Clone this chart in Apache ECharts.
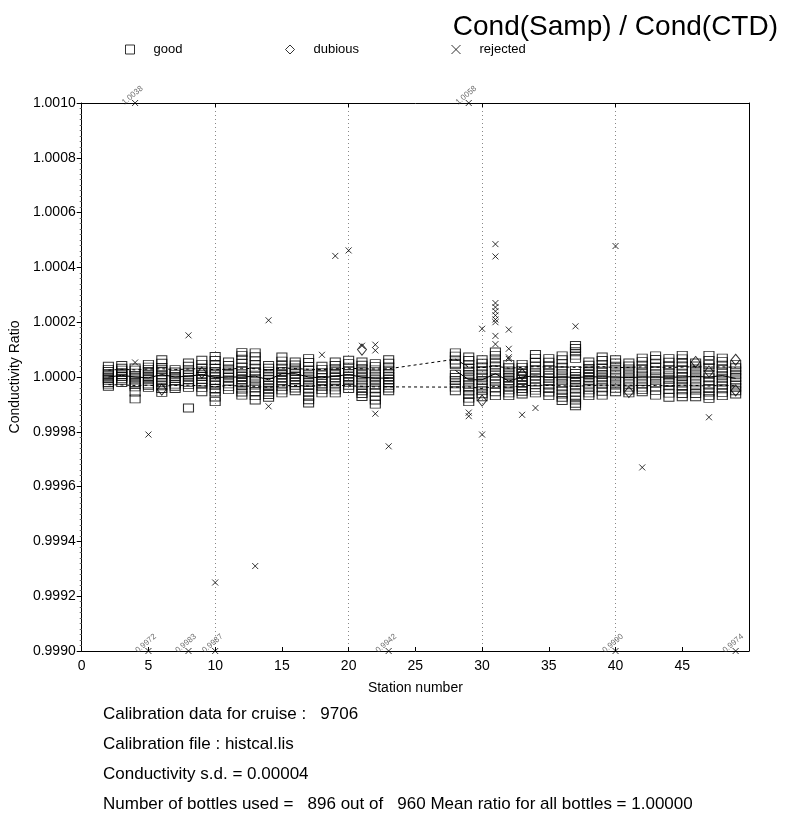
<!DOCTYPE html>
<html>
<head>
<meta charset="utf-8">
<script src="https://cdn.jsdelivr.net/npm/echarts@6/dist/echarts.min.js"></script>
<style>
  html, body { margin: 0; padding: 0; background: #fff; }
  #chart { width: 793px; height: 823px; }
</style>
</head>
<body>
<div id="chart"></div>
<script>
// station numbers that have bottles
const stations = [2, 3, 4, 5, 6, 7, 8, 9, 10, 11, 12, 13, 14, 15, 16, 17, 18, 19, 20, 21, 22, 23,
  28, 29, 30, 31, 32, 33, 34, 35, 36, 37, 38, 39, 40, 41, 42, 43, 44, 45, 46, 47, 48, 49]

// good bottles, ratio offsets from 1 in units of 1e-5 (one list per station)
const goodOffsets = [
  [3.9, 2.8, 2.0, 1.2, 0.5, 0.0, -0.6, -1.2, -2.0, -2.6, -3.4],
  [4.2, 3.2, 2.5, 1.6, 0.8, 0.2, -0.5, -1.2, -2.0],
  [3.3, 2.5, 1.4, 0.6, -0.3, -1.1, -2.0, -2.8, -3.6, -5.5, -8.0],
  [4.6, 3.6, 2.8, 2.0, 1.0, 0.2, -0.6, -1.5, -2.5, -3.0, -3.8],
  [6.3, 5.0, 3.5, 2.8, 1.9, 0.8, 0.0, -1.0, -2.1, -3.2, -4.2, -5.6],
  [2.7, 1.8, 1.0, 0.2, -0.6, -1.5, -2.6, -3.4, -4.2],
  [5.1, 3.9, 2.8, 1.6, 0.7, -0.1, -1.0, -1.9, -2.8, -3.8, -11.3],
  [6.1, 4.6, 3.2, 2.2, 1.0, 0.2, -0.8, -1.8, -2.6, -3.8, -5.4],
  [7.5, 6.0, 4.4, 3.2, 2.0, 1.0, 0.0, -1.2, -2.1, -3.0, -4.2, -5.5, -7.3, -9.0],
  [5.5, 4.2, 2.9, 1.8, 0.8, -0.2, -1.4, -2.5, -3.5, -4.6],
  [8.9, 7.8, 6.5, 5.0, 3.6, 2.4, 1.2, 0.2, -0.9, -2.0, -3.1, -4.4, -5.5, -6.6],
  [8.8, 7.4, 5.9, 4.5, 3.2, 1.9, 0.7, -0.5, -1.7, -2.9, -4.0, -5.3, -6.8, -8.4],
  [4.2, 3.2, 2.1, 1.0, 0.0, -1.0, -2.0, -3.1, -4.3, -5.5, -6.4, -7.4],
  [7.3, 5.8, 4.3, 3.2, 2.0, 0.9, -0.2, -1.3, -2.4, -3.5, -4.7, -5.8],
  [5.5, 4.4, 3.3, 2.2, 1.2, 0.2, -0.9, -2.0, -3.0, -4.0, -5.0],
  [6.7, 5.3, 3.8, 2.6, 1.4, 0.3, -0.8, -2.0, -3.1, -4.4, -5.6, -7.0, -8.3, -9.5],
  [3.9, 2.8, 1.7, 0.7, -0.3, -1.3, -2.4, -3.4, -4.6, -5.8],
  [5.5, 4.2, 3.0, 1.9, 0.8, -0.2, -1.3, -2.4, -3.6, -4.7, -5.8],
  [6.1, 4.9, 3.6, 2.4, 1.3, 0.2, -0.8, -1.9, -3.0, -4.2],
  [5.5, 4.3, 3.0, 1.9, 0.8, -0.3, -1.4, -2.6, -3.8, -5.0, -6.0, -7.1],
  [4.9, 3.8, 2.6, 1.4, 0.3, -0.8, -1.9, -3.0, -4.3, -5.6, -7.0, -8.4, -9.9],
  [6.3, 5.0, 3.7, 2.5, 1.3, 0.2, -0.9, -2.0, -3.0, -4.0, -5.0],
  [8.8, 7.6, 6.2, 5.0, 4.5, 1.0, -0.2, -1.3, -2.5, -3.7, -5.0],
  [7.3, 6.0, 4.6, 3.3, 2.1, 0.9, -0.3, -1.5, -2.7, -3.9, -5.1, -6.4, -7.7, -9.0],
  [6.3, 5.0, 3.7, 2.4, 1.1, -0.1, -1.3, -2.5, -3.7, -4.9, -6.1, -7.2],
  [9.1, 7.9, 6.6, 5.4, 4.0, 2.8, 1.6, 0.5, -0.6, -1.7, -2.8, -4.0, -5.4, -6.8],
  [4.6, 3.4, 2.2, 1.1, -0.2, -1.3, -2.3, -3.5, -4.7, -5.8, -6.8],
  [4.6, 3.5, 2.4, 1.3, 0.2, -0.9, -2.0, -3.1, -4.2, -5.2, -6.2],
  [8.2, 6.8, 5.4, 4.0, 2.8, 1.6, 0.5, -0.6, -1.7, -2.8, -3.8, -4.8, -5.8],
  [6.7, 5.4, 4.1, 2.8, 1.6, 0.5, -0.6, -1.7, -2.9, -4.2, -5.5, -6.8],
  [7.7, 6.3, 4.9, 3.6, 2.4, 1.2, 0.0, -1.2, -2.4, -3.6, -4.9, -6.2, -7.4, -8.6],
  [11.5, 10.4, 9.2, 8.0, 6.8, 2.4, 1.3, 0.2, -0.9, -2.0, -3.2, -4.4, -5.7, -7.0, -8.4, -9.6, -10.5],
  [5.5, 4.3, 3.1, 2.0, 0.9, -0.2, -1.3, -2.5, -3.6, -4.7, -5.8, -6.8],
  [7.3, 6.0, 4.6, 3.3, 2.1, 0.9, -0.3, -1.5, -2.7, -3.9, -5.2, -6.6],
  [6.3, 5.1, 3.9, 2.7, 1.5, 0.4, -0.7, -1.8, -2.9, -4.1, -5.4],
  [5.1, 4.0, 2.9, 1.8, 0.7, -0.4, -1.5, -2.6, -3.7, -4.8, -5.8],
  [6.9, 5.6, 4.3, 3.0, 1.8, 0.7, -0.4, -1.5, -2.6, -3.7, -4.6, -5.4],
  [7.7, 6.4, 5.0, 3.7, 2.4, 1.2, 0.0, -1.2, -2.4, -3.6, -4.9, -6.6],
  [6.7, 5.4, 4.1, 2.8, 1.6, 0.4, -0.8, -2.0, -3.2, -4.5, -5.9, -7.4],
  [7.9, 6.6, 5.3, 4.0, 2.7, 1.4, 0.2, -1.0, -2.2, -3.4, -4.7, -6.0, -7.2],
  [5.1, 4.0, 2.9, 1.8, 0.7, -0.4, -1.5, -2.6, -3.7, -4.8, -6.0, -7.2],
  [7.9, 6.0, 4.5, 3.5, 1.0, -0.3, -1.6, -2.9, -4.2, -5.5, -6.7, -7.8],
  [6.9, 5.6, 4.3, 3.0, 1.8, 0.6, -0.6, -1.8, -3.0, -4.3, -5.6, -6.8],
  [4.6, 3.4, 2.2, 1.0, -0.2, -1.4, -2.6, -3.8, -5.0, -6.2],
]

// station mean and the two dashed limits (1e-5 units), one per station
const meanOffsets = [0, 0.6, 0, -0.3, 0.9, 0, 0.3, 0.9, -0.2, 0, 0, 0.3, -1.0, 1.2, 1.2, 0, -0.3, 0.3, 0.9, -0.1, -0.4, -0.4,
  2.4, -1.0, -1.0, 1.2, -1.5, 0, 0.4, -0.2, 0, -0.1, 0, 0.1, 0, -0.2, 0, 0, -0.1, 0, 0.2, 0, 0.5, -0.5]
const upperOffsets = [2.5, 2.8, 2.6, 2.9, 3.0, 2.7, 2.9, 3.1, 2.6, 2.9, 3.2, 3.0, 2.5, 3.3, 3.1, 2.8, 2.7, 3.0, 3.2, 3.0, 2.9, 3.0,
  6.5, 3.6, 3.4, 4.0, 3.2, 3.5, 3.8, 3.6, 3.7, 3.5, 3.6, 3.8, 3.4, 3.5, 3.7, 3.6, 3.5, 3.6, 3.8, 3.6, 3.7, 3.5]
const lowerOffsets = [-2.8, -2.9, -3.1, -3.0, -3.3, -3.1, -3.0, -3.2, -3.5, -3.1, -3.3, -3.4, -3.8, -3.2, -3.1, -3.3, -3.2, -3.0, -3.2, -3.4, -3.6, -3.6,
  -3.7, -3.6, -4.2, -3.4, -3.8, -3.2, -3.0, -3.1, -3.2, -3.4, -3.1, -3.0, -3.1, -3.0, -3.2, -3.1, -3.2, -3.0, -3.1, -3.3, -3.0, -3.2]

// dubious bottles
const dubiousStations = [6, 9, 21, 30, 33, 41, 46, 47, 49, 49]
const dubiousOffsets = [-4.6, 1.6, 10.0, -8.6, 1.0, -5.5, 5.5, 2.0, 6.3, -4.9]

// rejected bottles inside the plotted range
const rejectedStations = [4, 5, 8, 10, 13, 14, 14, 18, 19, 20, 21, 22, 22, 22, 23, 29, 29, 30, 30,
  31, 31, 31, 31, 31, 31, 31, 31, 31, 31, 32, 32, 32, 32, 33, 34, 37, 40, 42, 47]
const rejectedOffsets = [5.3, -21, 15.2, -75, -69, 20.7, -10.7, 8.1, 44.2, 46.2, 11.4, 11.8, 9.7, -13.4, -25.3, -13, -14.3, 17.6, -21,
  48.5, 44, 27, 25.5, 24, 22.5, 21, 20, 15, 12, 17.3, 10.3, 7.2, 6.6, -13.8, -11.3, 18.5, 47.8, -33, -14.7]

// rejected bottles outside the range (pinned to the frame, value written beside)
const clippedStations = [4, 29, 5, 8, 10, 23, 40, 49]
const clippedValues = [1.0038, 1.0058, 0.9972, 0.9983, 0.9987, 0.9942, 0.99897, 0.9974]

const yTicks = { min: 0.999, max: 1.001, step: 0.0002 }

const toRatio = v => 1 + v * 1e-5
const FONT = "'Liberation Sans', Arial, sans-serif"

const goodData = []
stations.forEach((s, i) => goodOffsets[i].forEach(v => goodData.push([s, toRatio(v)])))
const dubiousData = dubiousStations.map((s, i) => [s, toRatio(dubiousOffsets[i])])
const rejectedData = rejectedStations.map((s, i) => [s, toRatio(rejectedOffsets[i])])
clippedStations.forEach((s, i) => {
  const v = clippedValues[i]
  rejectedData.push({
    value: [s, Math.min(yTicks.max, Math.max(yTicks.min, v))],
    label: { show: true, formatter: v.toFixed(4) },
  })
})

function lineData(offsets, breakGap) {
  const out = []
  stations.forEach((s, i) => {
    if (breakGap && i > 0 && s - stations[i - 1] > 1) out.push([s - 1, "-"])
    out.push([s, toRatio(offsets[i])])
  })
  return out
}

const open = { color: "rgba(0,0,0,0)", borderColor: "#000", borderWidth: 1 }
const crossPath = "path://M0,0L10,10M10,0L0,10"

const chart = echarts.init(document.getElementById("chart"))
chart.setOption({
  animation: false,
  textStyle: { fontFamily: FONT },
  title: {
    text: "Cond(Samp) / Cond(CTD)",
    right: 10, top: 8,
    textStyle: { fontSize: 28, fontWeight: "normal", color: "#000", fontFamily: FONT },
  },
  legend: [
    { data: ["good"], left: 120, top: 38 },
    { data: ["dubious"], left: 280, top: 38 },
    { data: ["rejected"], left: 446, top: 38 },
  ].map(l => ({
    ...l,
    itemWidth: 9, itemHeight: 9,
    itemStyle: open,
    textStyle: { fontSize: 13, color: "#000", fontFamily: FONT, padding: [0, 0, 0, 14] },
  })),
  grid: { left: 79, right: 44, top: 103, bottom: 172 },
  xAxis: [
    {
      type: "value", min: 0, max: 50, interval: 5,
      name: "Station number", nameLocation: "middle", nameGap: 30,
      nameTextStyle: { fontSize: 14, color: "#000" },
      axisLine: { lineStyle: { color: "#000" } },
      axisTick: { inside: true, length: 4, lineStyle: { color: "#000" } },
      axisLabel: { fontSize: 14, color: "#000", formatter: v => (v === 50 ? "" : v) },
      splitLine: { show: false },
    },
    {
      type: "value", position: "top", min: 0, max: 50, interval: 10,
      axisLine: { show: true, onZero: false, lineStyle: { color: "#000" } },
      axisTick: { inside: true, length: 4, lineStyle: { color: "#000" } },
      axisLabel: { show: false },
      splitLine: { show: true, lineStyle: { color: "#888", type: [1, 3] } },
    },
  ],
  yAxis: [
    {
      type: "value", min: yTicks.min, max: yTicks.max, interval: yTicks.step,
      name: "Conductivity Ratio", nameLocation: "middle", nameGap: 55,
      nameTextStyle: { fontSize: 14, color: "#000" },
      axisLine: { show: true, lineStyle: { color: "#000" } },
      axisTick: { length: 5, lineStyle: { color: "#000" } },
      minorTick: { show: true, splitNumber: 10, length: 2, lineStyle: { color: "#666" } },
      axisLabel: { fontSize: 14, color: "#000", margin: 6, formatter: v => v.toFixed(4) },
      splitLine: { show: false },
    },
    {
      type: "value", position: "right", min: yTicks.min, max: yTicks.max,
      axisLine: { show: true, onZero: false, lineStyle: { color: "#000" } },
      axisTick: { show: false }, axisLabel: { show: false }, splitLine: { show: false },
    },
  ],
  series: [
    {
      name: "upper", type: "line", data: lineData(upperOffsets, false), symbol: "none",
      lineStyle: { color: "#000", width: 1, type: [3, 3] }, silent: true, z: 1,
    },
    {
      name: "lower", type: "line", data: lineData(lowerOffsets, false), symbol: "none",
      lineStyle: { color: "#000", width: 1, type: [3, 3] }, silent: true, z: 1,
    },
    {
      name: "mean", type: "line", data: lineData(meanOffsets, true), symbol: "none", connectNulls: false,
      lineStyle: { color: "#000", width: 1 }, silent: true, z: 1,
    },
    {
      name: "good", type: "scatter", data: goodData, symbol: "rect", symbolSize: [10, 8],
      itemStyle: open, z: 3,
    },
    {
      name: "dubious", type: "scatter", data: dubiousData, symbol: "diamond", symbolSize: [9, 11],
      itemStyle: open, z: 3,
    },
    {
      name: "rejected", type: "scatter", data: rejectedData, symbol: crossPath, symbolSize: 6,
      itemStyle: open, z: 4,
      label: { show: false, position: "top", rotate: 40, distance: 1, fontSize: 8, color: "#444" },
    },
  ],
  graphic: [
    "Calibration data for cruise :   9706",
    "Calibration file : histcal.lis",
    "Conductivity s.d. = 0.00004",
    "Number of bottles used =   896 out of   960 Mean ratio for all bottles = 1.00000",
  ].map((t, i) => ({
    type: "text", left: 103, top: 706 + i * 30,
    style: { text: t, fontSize: 17, fill: "#000", font: "17px " + FONT },
  })),
})
</script>
</body>
</html>
